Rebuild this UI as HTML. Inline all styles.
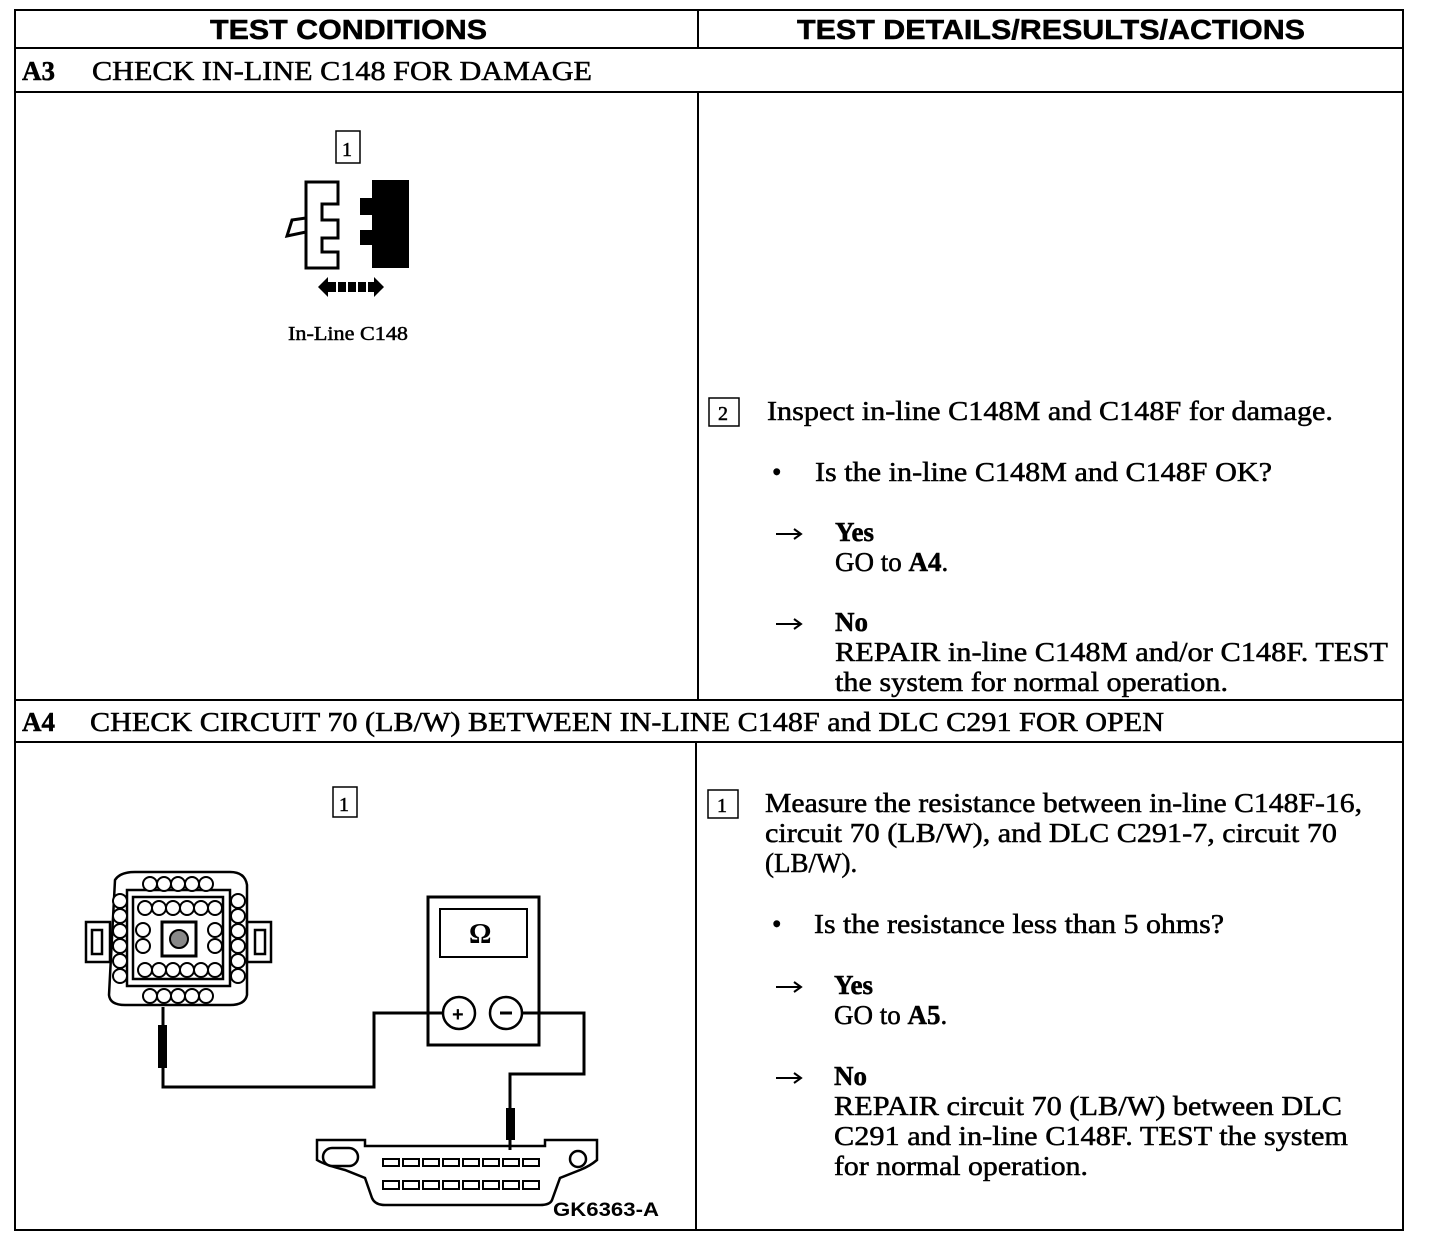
<!DOCTYPE html>
<html><head><meta charset="utf-8"><style>
html,body{margin:0;padding:0;background:#fff;}
svg{display:block}
.s{font-family:"Liberation Serif",serif;font-size:27px;fill:#000;stroke:#000;stroke-width:0.5}
.h{font-family:"Liberation Sans",sans-serif;font-size:28px;font-weight:bold;fill:#000;stroke:#000;stroke-width:0.5}
.b{font-weight:bold}
</style></head><body>
<svg width="1440" height="1242" viewBox="0 0 1440 1242" xmlns="http://www.w3.org/2000/svg">
<g fill="none" stroke="#000" stroke-width="2">
<rect x="15" y="10" width="1388" height="1220"/>
<line x1="15" y1="48" x2="1403" y2="48"/>
<line x1="15" y1="92" x2="1403" y2="92"/>
<line x1="15" y1="700" x2="1403" y2="700"/>
<line x1="15" y1="742" x2="1403" y2="742"/>
<line x1="698" y1="10" x2="698" y2="48"/>
<line x1="698" y1="92" x2="698" y2="700"/>
<line x1="696" y1="742" x2="696" y2="1230"/>
</g>
<text class="h" x="210" y="39" textLength="277" lengthAdjust="spacingAndGlyphs">TEST CONDITIONS</text>
<text class="h" x="797" y="39" textLength="508" lengthAdjust="spacingAndGlyphs">TEST DETAILS/RESULTS/ACTIONS</text>
<text class="s" x="22" y="80"><tspan class="b">A3</tspan></text>
<text class="s" x="92" y="80" textLength="500" lengthAdjust="spacingAndGlyphs">CHECK IN-LINE C148 FOR DAMAGE</text>
<text class="s" x="22" y="731"><tspan class="b">A4</tspan></text>
<text class="s" x="90" y="731" textLength="1074" lengthAdjust="spacingAndGlyphs">CHECK CIRCUIT 70 (LB/W) BETWEEN IN-LINE C148F and DLC C291 FOR OPEN</text>

<!-- A3 drawing -->
<rect x="336" y="131" width="24" height="32" fill="none" stroke="#000" stroke-width="1.5"/>
<text class="s" x="342" y="156" style="font-size:20px">1</text>
<path d="M306 182 H338 V204 H322 V220 H338 V238 H322 V252 H338 V268 H306 Z" fill="#fff" stroke="#000" stroke-width="3"/>
<path d="M306 218 L292 220 L287 236 L306 232" fill="none" stroke="#000" stroke-width="3"/>
<path d="M372 180 H409 V268 H372 V245 H360 V230 H372 V215 H360 V198 H372 Z" fill="#000"/>
<path d="M318 287 L328 277 V297 Z M384 287 L374 277 V297 Z" fill="#000"/>
<rect x="326" y="282" width="50" height="10" fill="#000"/>
<g stroke="#fff" stroke-width="2"><line x1="337" y1="282" x2="337" y2="292"/><line x1="347" y1="282" x2="347" y2="292"/><line x1="357" y1="282" x2="357" y2="292"/><line x1="367" y1="282" x2="367" y2="292"/></g>
<text class="s" x="288" y="340" style="font-size:20px" textLength="120" lengthAdjust="spacingAndGlyphs">In-Line C148</text>

<!-- arrows -->
<g stroke="#000" stroke-width="2" fill="none">
<path d="M776 534 H800 M794 529 L801 534 L794 539"/>
<path d="M776 624 H800 M794 619 L801 624 L794 629"/>
<path d="M776 987 H800 M794 982 L801 987 L794 992"/>
<path d="M776 1078 H800 M794 1073 L801 1078 L794 1083"/>
</g>

<!-- A3 text -->
<rect x="709" y="398" width="30" height="28" fill="none" stroke="#000" stroke-width="1.5"/>
<text class="s" x="718" y="420" style="font-size:20px">2</text>
<text class="s" x="767" y="420" textLength="566" lengthAdjust="spacingAndGlyphs">Inspect in-line C148M and C148F for damage.</text>
<text class="s" x="772" y="481">•</text>
<text class="s" x="815" y="481" textLength="457" lengthAdjust="spacingAndGlyphs">Is the in-line C148M and C148F OK?</text>
<text class="s b" x="835" y="541">Yes</text>
<text class="s" x="835" y="571">GO to <tspan class="b">A4</tspan>.</text>
<text class="s b" x="835" y="631">No</text>
<text class="s" x="835" y="661" textLength="553" lengthAdjust="spacingAndGlyphs">REPAIR in-line C148M and/or C148F. TEST</text>
<text class="s" x="835" y="691" textLength="393" lengthAdjust="spacingAndGlyphs">the system for normal operation.</text>

<!-- A4 text -->
<rect x="708" y="790" width="30" height="28" fill="none" stroke="#000" stroke-width="1.5"/>
<text class="s" x="717" y="812" style="font-size:20px">1</text>
<text class="s" x="765" y="812" textLength="597" lengthAdjust="spacingAndGlyphs">Measure the resistance between in-line C148F-16,</text>
<text class="s" x="765" y="842" textLength="572" lengthAdjust="spacingAndGlyphs">circuit 70 (LB/W), and DLC C291-7, circuit 70</text>
<text class="s" x="765" y="872">(LB/W).</text>
<text class="s" x="772" y="933">•</text>
<text class="s" x="814" y="933" textLength="410" lengthAdjust="spacingAndGlyphs">Is the resistance less than 5 ohms?</text>
<text class="s b" x="834" y="994">Yes</text>
<text class="s" x="834" y="1024">GO to <tspan class="b">A5</tspan>.</text>
<text class="s b" x="834" y="1085">No</text>
<text class="s" x="834" y="1115" textLength="508" lengthAdjust="spacingAndGlyphs">REPAIR circuit 70 (LB/W) between DLC</text>
<text class="s" x="834" y="1145" textLength="514" lengthAdjust="spacingAndGlyphs">C291 and in-line C148F. TEST the system</text>
<text class="s" x="834" y="1175" textLength="254" lengthAdjust="spacingAndGlyphs">for normal operation.</text>

<!-- A4 drawing -->
<rect x="333" y="787" width="24" height="30" fill="none" stroke="#000" stroke-width="1.5"/>
<text class="s" x="339" y="811" style="font-size:20px">1</text>
<g fill="none" stroke="#000" stroke-width="2.5">
<path d="M115 880 Q120 872 135 872 H230 Q245 872 247 885 V995 Q245 1005 230 1005 H125 Q110 1005 109 995 Z"/>
<rect x="86" y="922" width="24" height="40"/><rect x="92" y="930" width="10" height="24"/>
<rect x="247" y="922" width="24" height="40"/><rect x="255" y="930" width="10" height="24"/>
<rect x="127" y="890" width="103" height="96"/>
<rect x="133" y="897" width="90" height="82"/>
<rect x="162" y="922" width="34" height="34" stroke-width="3"/>
</g>
<g fill="#fff" stroke="#000" stroke-width="2">
<circle cx="150" cy="884" r="7"/><circle cx="164" cy="884" r="7"/><circle cx="178" cy="884" r="7"/><circle cx="192" cy="884" r="7"/><circle cx="206" cy="884" r="7"/>
<circle cx="150" cy="996" r="7"/><circle cx="164" cy="996" r="7"/><circle cx="178" cy="996" r="7"/><circle cx="192" cy="996" r="7"/><circle cx="206" cy="996" r="7"/>
<circle cx="120" cy="901" r="7"/><circle cx="120" cy="916" r="7"/><circle cx="120" cy="931" r="7"/><circle cx="120" cy="946" r="7"/><circle cx="120" cy="961" r="7"/><circle cx="120" cy="976" r="7"/>
<circle cx="238" cy="901" r="7"/><circle cx="238" cy="916" r="7"/><circle cx="238" cy="931" r="7"/><circle cx="238" cy="946" r="7"/><circle cx="238" cy="961" r="7"/><circle cx="238" cy="976" r="7"/>
<circle cx="145" cy="908" r="7"/><circle cx="159" cy="908" r="7"/><circle cx="173" cy="908" r="7"/><circle cx="187" cy="908" r="7"/><circle cx="201" cy="908" r="7"/><circle cx="215" cy="908" r="7"/>
<circle cx="145" cy="970" r="7"/><circle cx="159" cy="970" r="7"/><circle cx="173" cy="970" r="7"/><circle cx="187" cy="970" r="7"/><circle cx="201" cy="970" r="7"/><circle cx="215" cy="970" r="7"/>
<circle cx="143" cy="930" r="7"/><circle cx="143" cy="946" r="7"/><circle cx="215" cy="930" r="7"/><circle cx="215" cy="946" r="7"/>
</g>
<circle cx="179" cy="939" r="9" fill="#888" stroke="#000" stroke-width="2"/>
<!-- meter -->
<rect x="428" y="897" width="111" height="148" fill="none" stroke="#000" stroke-width="3"/>
<rect x="440" y="909" width="87" height="48" fill="none" stroke="#000" stroke-width="2"/>
<text x="469" y="943" style="font-family:'Liberation Serif',serif;font-size:28px;font-weight:bold">Ω</text>
<circle cx="459" cy="1013" r="16" fill="#fff" stroke="#000" stroke-width="2.5"/>
<circle cx="506" cy="1013" r="16" fill="#fff" stroke="#000" stroke-width="2.5"/>
<text x="452" y="1021" style="font-family:'Liberation Sans',sans-serif;font-size:20px;font-weight:bold">+</text>
<line x1="500" y1="1013" x2="512" y2="1013" stroke="#000" stroke-width="3"/>
<g fill="none" stroke="#000" stroke-width="3">
<path d="M163 1007 V1087 H374 V1013 H443"/>
<path d="M522 1013 H584 V1074 H510 V1150"/>
</g>
<rect x="158" y="1025" width="9" height="43" fill="#000"/>
<rect x="506" y="1108" width="9" height="32" fill="#000"/>
<!-- DLC -->
<g fill="none" stroke="#000" stroke-width="2.5">
<path d="M317 1140 H365 V1146 H545 V1140 H597 V1160 Q590 1166 580 1170 L560 1178 L552 1200 Q550 1205 540 1205 H385 Q375 1205 372 1198 L365 1178 L345 1170 Q325 1165 317 1160 Z"/>
<rect x="323" y="1148" width="35" height="18" rx="9"/>
<circle cx="578" cy="1159" r="8"/>
</g>
<g fill="none" stroke="#000" stroke-width="2">
<rect x="383" y="1159" width="16" height="7"/><rect x="403" y="1159" width="16" height="7"/><rect x="423" y="1159" width="16" height="7"/><rect x="443" y="1159" width="16" height="7"/><rect x="463" y="1159" width="16" height="7"/><rect x="483" y="1159" width="16" height="7"/><rect x="503" y="1159" width="16" height="7"/><rect x="523" y="1159" width="16" height="7"/>
<rect x="383" y="1181" width="16" height="8"/><rect x="403" y="1181" width="16" height="8"/><rect x="423" y="1181" width="16" height="8"/><rect x="443" y="1181" width="16" height="8"/><rect x="463" y="1181" width="16" height="8"/><rect x="483" y="1181" width="16" height="8"/><rect x="503" y="1181" width="16" height="8"/><rect x="523" y="1181" width="16" height="8"/>
</g>
<text x="553" y="1216" style="font-family:'Liberation Sans',sans-serif;font-size:19px;font-weight:bold" textLength="106" lengthAdjust="spacingAndGlyphs">GK6363-A</text>
</svg>
</body></html>
